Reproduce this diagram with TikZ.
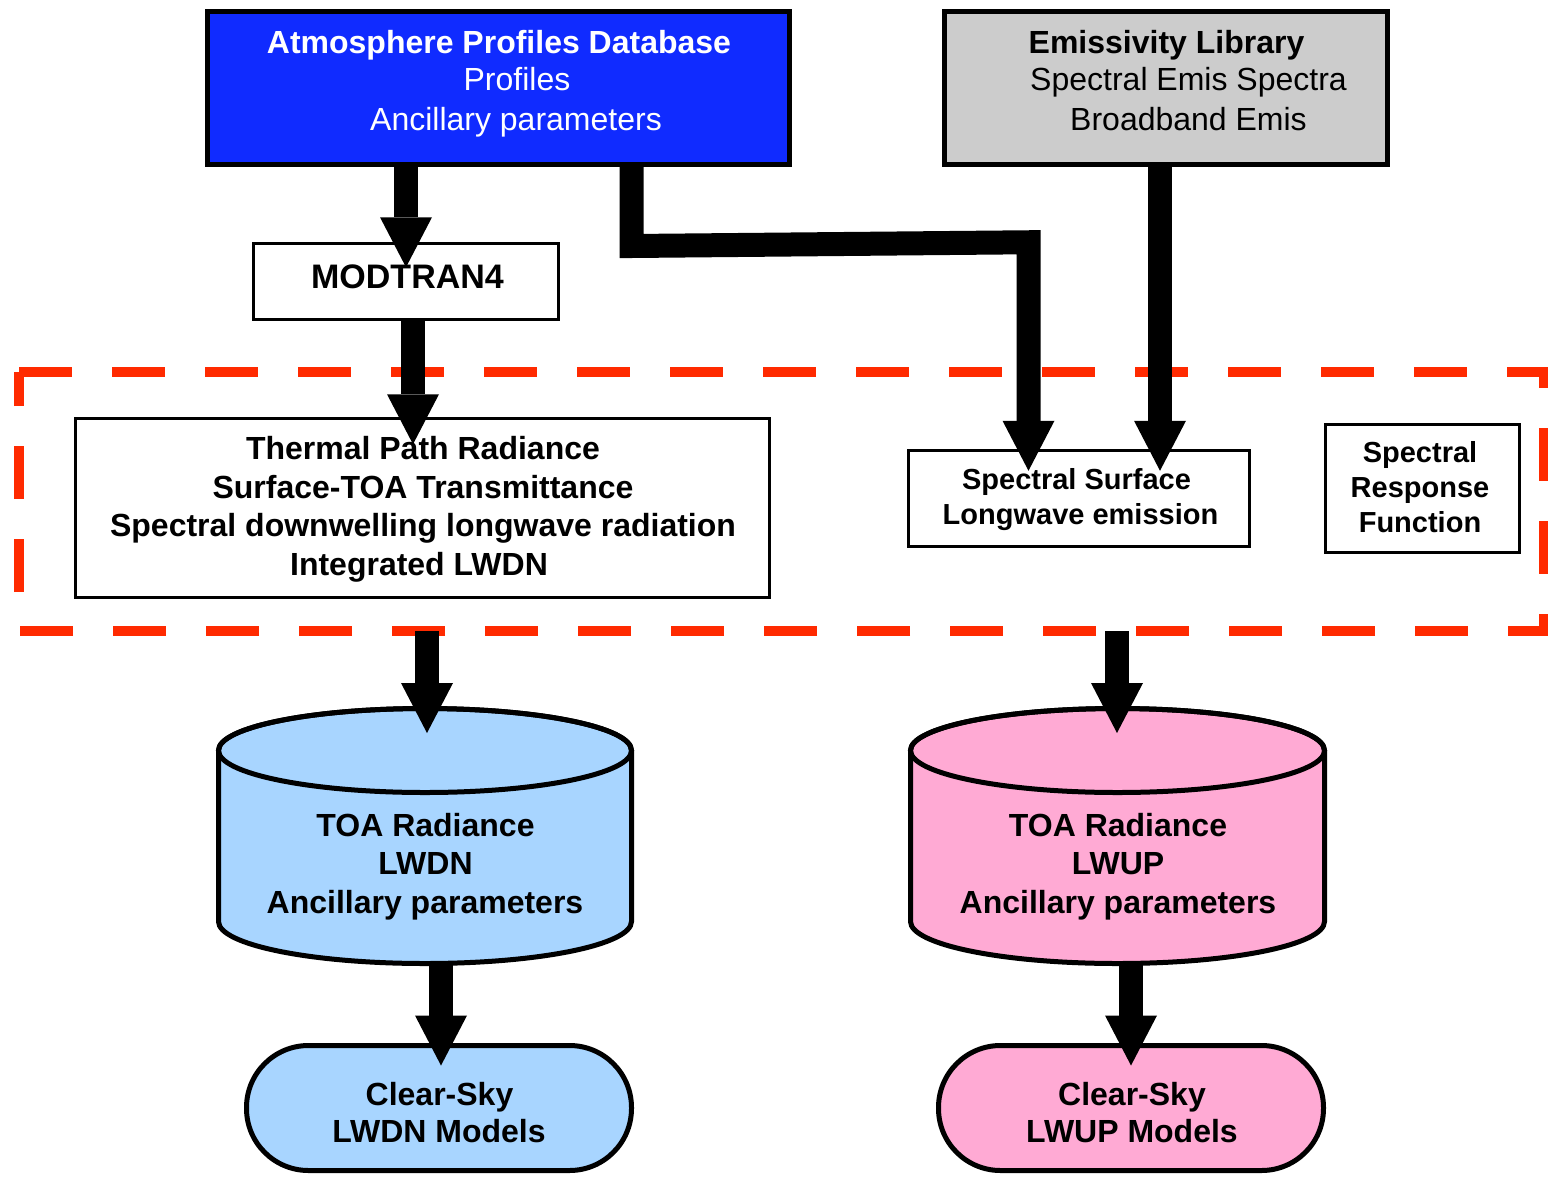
\documentclass[tikz,border=0pt]{standalone}
\usepackage{fontspec}
\setmainfont{Liberation Sans}
\usetikzlibrary{arrows.meta,calc}
\definecolor{dbblue}{RGB}{16,43,255}
\definecolor{emgray}{RGB}{204,204,204}
\definecolor{cylblue}{RGB}{168,213,255}
\definecolor{cylpink}{RGB}{255,170,212}
\definecolor{framered}{RGB}{255,42,0}
\begin{document}
\begin{tikzpicture}[x=1pt,y=-1pt,
  bigb/.style={font=\fontsize{32}{38}\selectfont\bfseries},
  bigr/.style={font=\fontsize{32}{38}\selectfont},
  smallb/.style={font=\fontsize{29}{35}\selectfont\bfseries},
  txt/.style={anchor=base, inner sep=0pt},
  thickbox/.style={draw=black, line width=5pt, inner sep=0pt},
  thinbox/.style={draw=black, line width=2.5pt, inner sep=0pt, fill=white},
  holder/.style={inner sep=0pt, outer sep=0pt},
  bigarrow/.style={line width=24pt, -{Triangle[width=52pt,length=50pt,line width=0pt]}},
  framestyle/.style={draw=framered, line width=10pt, dash pattern=on 53pt off 40pt},
  cylline/.style={draw=black, line width=5pt}
]
\useasboundingbox (0,0) rectangle (1548,1176);

% dashed frame
\node[holder, minimum width=1525pt, minimum height=259pt] (frame) at (781.5,501.5) {};
\draw[framestyle] (frame.north west) -- (frame.north east) -- (frame.south east) -- (frame.south west) -- cycle;

% top boxes
\node[thickbox, fill=dbblue, minimum width=582pt, minimum height=153pt] (atm) at (498.5,88) {};
\node[txt, bigb, text=white] (atm1) at (499,53.5) {Atmosphere Profiles Database};
\node[txt, bigr, text=white] (atm2) at (517,90.5) {Profiles};
\node[txt, bigr, text=white] (atm3) at (516,130) {Ancillary parameters};

\node[thickbox, fill=emgray, minimum width=443pt, minimum height=153pt] (emis) at (1166,88) {};
\node[txt, bigb] (emis1) at (1166.5,53.5) {Emissivity Library};
\node[txt, bigr] (emis2) at (1188.5,90.5) {Spectral Emis Spectra};
\node[txt, bigr] (emis3) at (1188.5,130) {Broadband Emis};

% MODTRAN4
\node[thinbox, minimum width=305pt, minimum height=76pt] (modtran) at (406,281.5) {};
\node[txt, font=\fontsize{34}{40}\selectfont\bfseries] (modtran1) at (407.5,288) {MODTRAN4};

% boxes inside frame
\node[thinbox, minimum width=694pt, minimum height=179pt] (thermal) at (422.5,508) {};
\node[txt, bigb] (th1) at (423,459.5) {Thermal Path Radiance};
\node[txt, bigb] (th2) at (423,498) {Surface-TOA Transmittance};
\node[txt, bigb] (th3) at (423,536.5) {Spectral downwelling longwave radiation};
\node[txt, bigb] (th4) at (419,575) {Integrated LWDN};

\node[thinbox, minimum width=341pt, minimum height=96pt] (surf) at (1079,498.5) {};
\node[txt, smallb] (surf1) at (1076.5,489.5) {Spectral Surface};
\node[txt, smallb] (surf2) at (1080.5,524.5) {Longwave emission};

\node[thinbox, minimum width=194pt, minimum height=128pt] (srf) at (1422.5,488.5) {};
\node[txt, smallb] (srf1) at (1420,462.5) {Spectral};
\node[txt, smallb] (srf2) at (1420,497.5) {Response};
\node[txt, smallb] (srf3) at (1420,532.5) {Function};

% cylinders
\node[holder, minimum width=413pt, minimum height=255pt] (cylA) at (425,836) {};
\path[cylline, fill=cylblue] ($(cylA.north west)+(0,42)$) -- ($(cylA.south west)+(0,-42)$)
  arc[start angle=180, end angle=0, x radius=206.5, y radius=42]
  -- ($(cylA.north east)+(0,42)$)
  arc[start angle=0, end angle=-180, x radius=206.5, y radius=42] -- cycle;
\draw[cylline] ($(cylA.north)+(0,42)$) ellipse[x radius=206.5, y radius=42];
\node[txt, bigb] (cylA1) at (425.5,836.5) {TOA Radiance};
\node[txt, bigb] (cylA2) at (425.5,874.5) {LWDN};
\node[txt, bigb] (cylA3) at (425,913) {Ancillary parameters};

\node[holder, minimum width=414pt, minimum height=255pt] (cylB) at (1117.5,836) {};
\path[cylline, fill=cylpink] ($(cylB.north west)+(0,42)$) -- ($(cylB.south west)+(0,-42)$)
  arc[start angle=180, end angle=0, x radius=207, y radius=42]
  -- ($(cylB.north east)+(0,42)$)
  arc[start angle=0, end angle=-180, x radius=207, y radius=42] -- cycle;
\draw[cylline] ($(cylB.north)+(0,42)$) ellipse[x radius=207, y radius=42];
\node[txt, bigb] (cylB1) at (1118,836.5) {TOA Radiance};
\node[txt, bigb] (cylB2) at (1118,874.5) {LWUP};
\node[txt, bigb] (cylB3) at (1118,913) {Ancillary parameters};

% model terminals
\node[thickbox, fill=cylblue, rounded corners=62pt, minimum width=385pt, minimum height=125pt] (stadA) at (439,1108) {};
\node[txt, bigb] (stadA1) at (439.5,1105.5) {Clear-Sky};
\node[txt, bigb] (stadA2) at (439,1142.5) {LWDN Models};

\node[thickbox, fill=cylpink, rounded corners=62pt, minimum width=385pt, minimum height=125pt] (stadB) at (1131,1108) {};
\node[txt, bigb] (stadB1) at (1132,1105.5) {Clear-Sky};
\node[txt, bigb] (stadB2) at (1132,1142.5) {LWUP Models};

% arrows
\draw[bigarrow] (atm.south -| modtran.north) -- ($(modtran.north)+(0,25)$);
\draw[bigarrow] ($(modtran.south)+(7,0)$) -- ($(modtran.south |- thermal.north)+(7,27)$);
\draw[bigarrow] ($(atm.south)+(133,0)$) -- ($(atm.south)+(133,79)$) -- ($(surf.north)+(-50.5,-207)$) -- ($(surf.north)+(-50.5,21.5)$);
\draw[bigarrow] ($(emis.south)+(-6,0)$) -- ($(surf.north)+(81,21.5)$);
\draw[bigarrow] ($(frame.south -| cylA.north)+(2,0)$) -- ($(cylA.north)+(2,24.5)$);
\draw[bigarrow] ($(frame.south -| cylB.north)+(-0.5,0)$) -- ($(cylB.north)+(-0.5,24.5)$);
\draw[bigarrow] ($(cylA.south)+(16,0)$) -- ($(stadA.north)+(2,22.5)$);
\draw[bigarrow] ($(cylB.south)+(13.5,0)$) -- ($(stadB.north)+(0,22.5)$);
\end{tikzpicture}
\end{document}
